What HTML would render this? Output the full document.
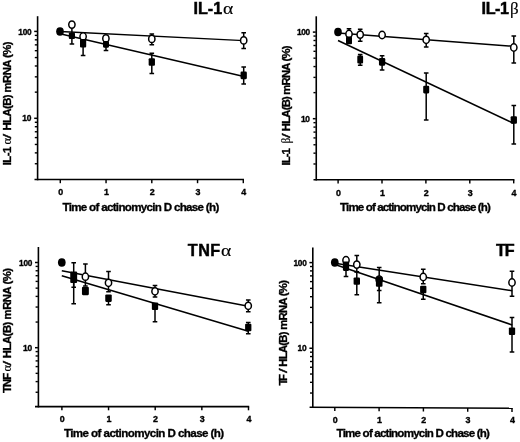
<!DOCTYPE html>
<html><head><meta charset="utf-8"><title>mRNA decay after actinomycin D chase</title>
<style>html,body{margin:0;padding:0;background:#fff;overflow:hidden;}svg{display:block;filter:blur(0.4px);}
text{font-family:"Liberation Sans",sans-serif;font-weight:bold;fill:#000;stroke:#000;stroke-width:0.32px;}
.tk{font-size:8.9px;letter-spacing:-0.3px;stroke-width:0.35px;}
.xt{font-size:11.6px;}
.yl{font-size:11.3px;}
.ti{font-size:16.2px;stroke-width:0.45px;}
.sym{font-family:"Liberation Serif",serif;font-weight:normal;stroke-width:0.15px;}
</style></head><body>
<svg width="520" height="442" viewBox="0 0 520 442">
<rect x="0" y="0" width="520" height="442" fill="#fff"/>
<g id="p1">
<g stroke="#000" stroke-width="1.6" fill="none">
<path d="M37.6 16.2 V180.3"/>
<path d="M34.5 179.5 L244 179.5"/>
</g>
<g stroke="#000" fill="none">
<path d="M37.1 31.4 h-2.9" stroke-width="1.5"/>
<path d="M37.1 35.38 h-2.3" stroke-width="1.4"/>
<path d="M37.1 39.82 h-2.3" stroke-width="1.4"/>
<path d="M37.1 44.86 h-2.3" stroke-width="1.4"/>
<path d="M37.1 50.68 h-2.3" stroke-width="1.4"/>
<path d="M37.1 57.56 h-2.3" stroke-width="1.4"/>
<path d="M37.1 65.98 h-2.3" stroke-width="1.4"/>
<path d="M37.1 76.84 h-2.3" stroke-width="1.4"/>
<path d="M37.1 92.14 h-2.3" stroke-width="1.4"/>
<path d="M37.1 118.3 h-2.9" stroke-width="1.5"/>
<path d="M37.1 122.28 h-2.3" stroke-width="1.4"/>
<path d="M37.1 126.72 h-2.3" stroke-width="1.4"/>
<path d="M37.1 131.76 h-2.3" stroke-width="1.4"/>
<path d="M37.1 137.58 h-2.3" stroke-width="1.4"/>
<path d="M37.1 144.46 h-2.3" stroke-width="1.4"/>
<path d="M37.1 152.88 h-2.3" stroke-width="1.4"/>
<path d="M37.1 163.74 h-2.3" stroke-width="1.4"/>
<path d="M60.3 179.5 v3.7" stroke-width="1.45"/>
<path d="M106.05 179.5 v3.7" stroke-width="1.45"/>
<path d="M151.8 179.5 v3.7" stroke-width="1.45"/>
<path d="M197.55 179.5 v3.7" stroke-width="1.45"/>
<path d="M243.3 179.5 v3.7" stroke-width="1.45"/>
</g>
<text class="tk" x="18.3" y="34.5" textLength="13.0" lengthAdjust="spacingAndGlyphs">100</text>
<text class="tk" x="22.3" y="121.4" textLength="8.8" lengthAdjust="spacingAndGlyphs">10</text>
<text class="tk" x="60.5" y="195.2" text-anchor="middle">0</text>
<text class="tk" x="106.25" y="195.2" text-anchor="middle">1</text>
<text class="tk" x="152" y="195.2" text-anchor="middle">2</text>
<text class="tk" x="197.75" y="195.2" text-anchor="middle">3</text>
<text class="tk" x="243.5" y="195.2" text-anchor="middle">4</text>
<text class="xt" x="62.5" y="210.8" textLength="156.8" lengthAdjust="spacing">Time of actinomycin D chase (h)</text>
<text id="p1_y0" class="yl" transform="translate(10.5 165.3) rotate(-90)" textLength="18.6" lengthAdjust="spacing">IL-1</text>
<text id="p1_y1" class="sym" transform="translate(10.5 144.6) rotate(-90)" font-size="12.5">α</text>
<text id="p1_y2" class="yl" transform="translate(10.5 138.4) rotate(-90)" textLength="4.6" lengthAdjust="spacingAndGlyphs" style="font-weight:normal;stroke-width:0.35px">/</text>
<text id="p1_y3" class="yl" transform="translate(10.5 130.5) rotate(-90)" textLength="89" lengthAdjust="spacing">HLA(B) mRNA (%)</text>
<text class="ti" x="193.6" y="13.8" textLength="28.6" lengthAdjust="spacing">IL-1</text>
<text class="sym" font-size="16.0" transform="translate(223.1 13.8) scale(1.22 1)">α</text>
<g stroke="#000" stroke-width="1.45" fill="none">
<path d="M60 31.5 L243.9 40.6"/>
<path d="M60 33.8 L243.9 76.5"/>
</g>
<g stroke="#000" stroke-width="1.5" fill="none">
<path d="M71.9 24.6 V35 M69.6 35 h4.6"/>
<path d="M151.8 38.9 V34 M149.5 34 h4.6"/>
<path d="M151.8 38.9 V44.7 M149.5 44.7 h4.6"/>
<path d="M243.7 40.4 V32.7 M241.4 32.7 h4.6"/>
<path d="M243.7 40.4 V48.5 M241.4 48.5 h4.6"/>
<path d="M71.9 35.75 V44.1 M69.6 44.1 h4.6"/>
<path d="M83.1 43.25 V55.6 M80.8 55.6 h4.6"/>
<path d="M106 44.4 V50.5 M103.7 50.5 h4.6"/>
<path d="M151.8 62 V53.3 M149.5 53.3 h4.6"/>
<path d="M151.8 62 V73.5 M149.5 73.5 h4.6"/>
<path d="M243.7 75.4 V67.1 M241.4 67.1 h4.6"/>
<path d="M243.7 75.4 V84 M241.4 84 h4.6"/>
</g>
<ellipse cx="71.9" cy="24.6" rx="3.15" ry="3.65" fill="#fff" stroke="#000" stroke-width="1.5"/>
<ellipse cx="83.1" cy="36.5" rx="3.15" ry="3.65" fill="#fff" stroke="#000" stroke-width="1.5"/>
<ellipse cx="105.9" cy="38.4" rx="3.15" ry="3.65" fill="#fff" stroke="#000" stroke-width="1.5"/>
<ellipse cx="151.8" cy="38.9" rx="3.15" ry="3.65" fill="#fff" stroke="#000" stroke-width="1.5"/>
<ellipse cx="243.7" cy="40.4" rx="3.15" ry="3.65" fill="#fff" stroke="#000" stroke-width="1.5"/>
<rect x="68.8" y="32.45" width="6.2" height="6.6" rx="1.1" fill="#000"/>
<rect x="80" y="39" width="6.2" height="8.5" rx="1.1" fill="#000"/>
<rect x="103" y="41.1" width="6" height="6.6" rx="1.1" fill="#000"/>
<rect x="148.65" y="58.2" width="6.3" height="7.6" rx="1.1" fill="#000"/>
<rect x="240.55" y="71.6" width="6.3" height="7.6" rx="1.1" fill="#000"/>
<ellipse cx="60" cy="31.5" rx="3.85" ry="4.25" fill="#000"/>
</g>
<g id="p2">
<g stroke="#000" stroke-width="1.6" fill="none">
<path d="M316.25 16.3 V180.5"/>
<path d="M313.5 179.7 L514.4 179.7"/>
</g>
<g stroke="#000" fill="none">
<path d="M315.75 32.1 h-2.9" stroke-width="1.5"/>
<path d="M315.75 36.06 h-2.3" stroke-width="1.4"/>
<path d="M315.75 40.49 h-2.3" stroke-width="1.4"/>
<path d="M315.75 45.51 h-2.3" stroke-width="1.4"/>
<path d="M315.75 51.31 h-2.3" stroke-width="1.4"/>
<path d="M315.75 58.17 h-2.3" stroke-width="1.4"/>
<path d="M315.75 66.56 h-2.3" stroke-width="1.4"/>
<path d="M315.75 77.38 h-2.3" stroke-width="1.4"/>
<path d="M315.75 92.63 h-2.3" stroke-width="1.4"/>
<path d="M315.75 118.7 h-2.9" stroke-width="1.5"/>
<path d="M315.75 122.66 h-2.3" stroke-width="1.4"/>
<path d="M315.75 127.09 h-2.3" stroke-width="1.4"/>
<path d="M315.75 132.11 h-2.3" stroke-width="1.4"/>
<path d="M315.75 137.91 h-2.3" stroke-width="1.4"/>
<path d="M315.75 144.77 h-2.3" stroke-width="1.4"/>
<path d="M315.75 153.16 h-2.3" stroke-width="1.4"/>
<path d="M315.75 163.98 h-2.3" stroke-width="1.4"/>
<path d="M338.1 179.7 v3.7" stroke-width="1.45"/>
<path d="M382 179.7 v3.7" stroke-width="1.45"/>
<path d="M425.9 179.7 v3.7" stroke-width="1.45"/>
<path d="M469.8 179.7 v3.7" stroke-width="1.45"/>
<path d="M513.7 179.7 v3.7" stroke-width="1.45"/>
</g>
<text class="tk" x="296.95" y="35.2" textLength="13.0" lengthAdjust="spacingAndGlyphs">100</text>
<text class="tk" x="300.95" y="121.8" textLength="8.8" lengthAdjust="spacingAndGlyphs">10</text>
<text class="tk" x="338.3" y="195.5" text-anchor="middle">0</text>
<text class="tk" x="382.2" y="195.5" text-anchor="middle">1</text>
<text class="tk" x="426.1" y="195.5" text-anchor="middle">2</text>
<text class="tk" x="470" y="195.5" text-anchor="middle">3</text>
<text class="tk" x="513.9" y="195.5" text-anchor="middle">4</text>
<text class="xt" x="340.1" y="211" textLength="150.8" lengthAdjust="spacing">Time of actinomycin D chase (h)</text>
<text id="p2_y0" class="yl" transform="translate(290.3 165.4) rotate(-90)" textLength="17.2" lengthAdjust="spacing">IL-1</text>
<text id="p2_y1" class="sym" transform="translate(290.3 143.4) rotate(-90)" font-size="11.5">β</text>
<text id="p2_y2" class="yl" transform="translate(290.3 137.9) rotate(-90)" textLength="4.6" lengthAdjust="spacingAndGlyphs" style="font-weight:normal;stroke-width:0.35px">/</text>
<text id="p2_y3" class="yl" transform="translate(290.3 131.2) rotate(-90)" textLength="85.8" lengthAdjust="spacing">HLA(B) mRNA (%)</text>
<text class="ti" x="481.6" y="13.8" textLength="27.4" lengthAdjust="spacing">IL-1</text>
<text class="sym" font-size="17.0" transform="translate(509.9 13.8) scale(1.0 1)">β</text>
<g stroke="#000" stroke-width="1.5" fill="none">
<path d="M338 33 L513.9 46.3"/>
<path d="M338 40.5 L513.9 123.5"/>
</g>
<g stroke="#000" stroke-width="1.5" fill="none">
<path d="M349 34 V28.8 M346.7 28.8 h4.6"/>
<path d="M349 34 V38 M346.7 38 h4.6"/>
<path d="M360.2 34.6 V29.2 M357.9 29.2 h4.6"/>
<path d="M360.2 34.6 V41.3 M357.9 41.3 h4.6"/>
<path d="M426.2 39.8 V33.5 M423.9 33.5 h4.6"/>
<path d="M426.2 39.8 V46.9 M423.9 46.9 h4.6"/>
<path d="M513.8 47.5 V36 M511.5 36 h4.6"/>
<path d="M513.8 47.5 V62.9 M511.5 62.9 h4.6"/>
<path d="M360.2 59.6 V54.6 M357.9 54.6 h4.6"/>
<path d="M360.2 59.6 V65.2 M357.9 65.2 h4.6"/>
<path d="M382.1 61.9 V55.8 M379.8 55.8 h4.6"/>
<path d="M382.1 61.9 V70 M379.8 70 h4.6"/>
<path d="M426.2 89.6 V72.9 M423.9 72.9 h4.6"/>
<path d="M426.2 89.6 V120 M423.9 120 h4.6"/>
<path d="M513.8 120 V105.6 M511.5 105.6 h4.6"/>
<path d="M513.8 120 V144 M511.5 144 h4.6"/>
</g>
<ellipse cx="349" cy="34" rx="3.15" ry="3.65" fill="#fff" stroke="#000" stroke-width="1.5"/>
<ellipse cx="360.2" cy="34.6" rx="3.15" ry="3.65" fill="#fff" stroke="#000" stroke-width="1.5"/>
<ellipse cx="382.1" cy="35" rx="3.15" ry="3.65" fill="#fff" stroke="#000" stroke-width="1.5"/>
<ellipse cx="426.2" cy="39.8" rx="3.15" ry="3.65" fill="#fff" stroke="#000" stroke-width="1.5"/>
<ellipse cx="513.8" cy="47.5" rx="3.15" ry="3.65" fill="#fff" stroke="#000" stroke-width="1.5"/>
<rect x="346" y="36.55" width="6" height="7.7" rx="1.1" fill="#000"/>
<rect x="357.3" y="55.6" width="5.8" height="8" rx="1.1" fill="#000"/>
<rect x="378.95" y="58.1" width="6.3" height="7.6" rx="1.1" fill="#000"/>
<rect x="423.2" y="85.75" width="6" height="7.7" rx="1.1" fill="#000"/>
<rect x="510.65" y="116.2" width="6.3" height="7.6" rx="1.1" fill="#000"/>
<ellipse cx="338" cy="32.1" rx="3.85" ry="4.25" fill="#000"/>
</g>
<g id="p3">
<g stroke="#000" stroke-width="1.6" fill="none">
<path d="M38.4 247 V407.4"/>
<path d="M35 406.6 L249.2 406.6"/>
</g>
<g stroke="#000" fill="none">
<path d="M37.9 262.5 h-2.9" stroke-width="1.5"/>
<path d="M37.9 266.4 h-2.3" stroke-width="1.4"/>
<path d="M37.9 270.76 h-2.3" stroke-width="1.4"/>
<path d="M37.9 275.7 h-2.3" stroke-width="1.4"/>
<path d="M37.9 281.4 h-2.3" stroke-width="1.4"/>
<path d="M37.9 288.15 h-2.3" stroke-width="1.4"/>
<path d="M37.9 296.4 h-2.3" stroke-width="1.4"/>
<path d="M37.9 307.05 h-2.3" stroke-width="1.4"/>
<path d="M37.9 322.05 h-2.3" stroke-width="1.4"/>
<path d="M37.9 347.7 h-2.9" stroke-width="1.5"/>
<path d="M37.9 351.6 h-2.3" stroke-width="1.4"/>
<path d="M37.9 355.96 h-2.3" stroke-width="1.4"/>
<path d="M37.9 360.9 h-2.3" stroke-width="1.4"/>
<path d="M37.9 366.6 h-2.3" stroke-width="1.4"/>
<path d="M37.9 373.35 h-2.3" stroke-width="1.4"/>
<path d="M37.9 381.6 h-2.3" stroke-width="1.4"/>
<path d="M37.9 392.25 h-2.3" stroke-width="1.4"/>
<path d="M61.9 406.6 v3.7" stroke-width="1.45"/>
<path d="M108.55 406.6 v3.7" stroke-width="1.45"/>
<path d="M155.2 406.6 v3.7" stroke-width="1.45"/>
<path d="M201.85 406.6 v3.7" stroke-width="1.45"/>
<path d="M248.5 406.6 v3.7" stroke-width="1.45"/>
</g>
<text class="tk" x="19.1" y="265.6" textLength="13.0" lengthAdjust="spacingAndGlyphs">100</text>
<text class="tk" x="23.1" y="350.8" textLength="8.8" lengthAdjust="spacingAndGlyphs">10</text>
<text class="tk" x="62.1" y="422.3" text-anchor="middle">0</text>
<text class="tk" x="108.75" y="422.3" text-anchor="middle">1</text>
<text class="tk" x="155.4" y="422.3" text-anchor="middle">2</text>
<text class="tk" x="202.05" y="422.3" text-anchor="middle">3</text>
<text class="tk" x="248.7" y="422.3" text-anchor="middle">4</text>
<text class="xt" x="63.9" y="436.8" textLength="160.3" lengthAdjust="spacing">Time of actinomycin D chase (h)</text>
<text id="p3_y0" class="yl" transform="translate(10.7 392.9) rotate(-90)" textLength="20" lengthAdjust="spacing">TNF</text>
<text id="p3_y1" class="sym" transform="translate(10.7 371.5) rotate(-90)" font-size="12.5">α</text>
<text id="p3_y2" class="yl" transform="translate(10.7 365.4) rotate(-90)" textLength="4.6" lengthAdjust="spacingAndGlyphs" style="font-weight:normal;stroke-width:0.35px">/</text>
<text id="p3_y3" class="yl" transform="translate(10.7 358.2) rotate(-90)" textLength="90.3" lengthAdjust="spacing">HLA(B) mRNA (%)</text>
<text class="ti" x="187.8" y="255.75" textLength="32.4" lengthAdjust="spacing">TNF</text>
<text class="sym" font-size="16.0" transform="translate(221.1 255.75) scale(1.22 1)">α</text>
<g stroke="#000" stroke-width="1.55" fill="none">
<path d="M61.8 270.8 L248.4 306.3"/>
<path d="M61.8 275.8 L248.4 331.2"/>
</g>
<g stroke="#000" stroke-width="1.5" fill="none">
<path d="M85.4 276.7 V264.1 M83.1 264.1 h4.6"/>
<path d="M85.4 276.7 V286 M83.1 286 h4.6"/>
<path d="M108.5 282.8 V271.6 M106.2 271.6 h4.6"/>
<path d="M108.5 282.8 V291.8 M106.2 291.8 h4.6"/>
<path d="M155 291.3 V285.5 M152.7 285.5 h4.6"/>
<path d="M155 291.3 V297 M152.7 297 h4.6"/>
<path d="M248.25 305.8 V300 M245.95 300 h4.6"/>
<path d="M248.25 305.8 V311.8 M245.95 311.8 h4.6"/>
<path d="M73.7 277.2 V262.7 M71.4 262.7 h4.6"/>
<path d="M73.7 277.2 V303.7 M71.4 303.7 h4.6"/>
<path d="M73.7 280 V287.2 M71.4 287.2 h4.6"/>
<path d="M108.5 298.2 V304.8 M106.2 304.8 h4.6"/>
<path d="M155 306.3 V321.8 M152.7 321.8 h4.6"/>
<path d="M248.25 327.5 V322.5 M245.95 322.5 h4.6"/>
<path d="M248.25 327.5 V333.8 M245.95 333.8 h4.6"/>
</g>
<ellipse cx="85.4" cy="276.7" rx="3.15" ry="3.65" fill="#fff" stroke="#000" stroke-width="1.5"/>
<ellipse cx="108.5" cy="282.8" rx="3.15" ry="3.65" fill="#fff" stroke="#000" stroke-width="1.5"/>
<ellipse cx="155" cy="291.3" rx="3.15" ry="3.65" fill="#fff" stroke="#000" stroke-width="1.5"/>
<ellipse cx="248.25" cy="305.8" rx="3.15" ry="3.65" fill="#fff" stroke="#000" stroke-width="1.5"/>
<rect x="70.25" y="271.4" width="6.9" height="11.6" rx="1.1" fill="#000"/>
<rect x="73.2" y="279.5" width="1" height="1" rx="1.1" fill="#000"/>
<rect x="81.95" y="286.8" width="6.9" height="8.4" rx="1.1" fill="#000"/>
<rect x="105.25" y="294.5" width="6.5" height="7.4" rx="1.1" fill="#000"/>
<rect x="151.85" y="302.5" width="6.3" height="7.6" rx="1.1" fill="#000"/>
<rect x="245.1" y="323.7" width="6.3" height="7.6" rx="1.1" fill="#000"/>
<ellipse cx="61.8" cy="262.6" rx="3.85" ry="4.25" fill="#000"/>
</g>
<g id="p4">
<g stroke="#000" stroke-width="1.6" fill="none">
<path d="M312.8 247.5 V408.1"/>
<path d="M309.6 407.3 L512.7 408.3"/>
</g>
<g stroke="#000" fill="none">
<path d="M312.3 262.6 h-2.9" stroke-width="1.5"/>
<path d="M312.3 266.52 h-2.3" stroke-width="1.4"/>
<path d="M312.3 270.9 h-2.3" stroke-width="1.4"/>
<path d="M312.3 275.87 h-2.3" stroke-width="1.4"/>
<path d="M312.3 281.6 h-2.3" stroke-width="1.4"/>
<path d="M312.3 288.38 h-2.3" stroke-width="1.4"/>
<path d="M312.3 296.68 h-2.3" stroke-width="1.4"/>
<path d="M312.3 307.38 h-2.3" stroke-width="1.4"/>
<path d="M312.3 322.47 h-2.3" stroke-width="1.4"/>
<path d="M312.3 348.25 h-2.9" stroke-width="1.5"/>
<path d="M312.3 352.17 h-2.3" stroke-width="1.4"/>
<path d="M312.3 356.55 h-2.3" stroke-width="1.4"/>
<path d="M312.3 361.52 h-2.3" stroke-width="1.4"/>
<path d="M312.3 367.25 h-2.3" stroke-width="1.4"/>
<path d="M312.3 374.03 h-2.3" stroke-width="1.4"/>
<path d="M312.3 382.33 h-2.3" stroke-width="1.4"/>
<path d="M312.3 393.03 h-2.3" stroke-width="1.4"/>
<path d="M334.8 407.3 v3.7" stroke-width="1.45"/>
<path d="M379.1 407.55 v3.7" stroke-width="1.45"/>
<path d="M423.4 407.8 v3.7" stroke-width="1.45"/>
<path d="M467.7 408.05 v3.7" stroke-width="1.45"/>
<path d="M512 408.3 v3.7" stroke-width="1.45"/>
</g>
<text class="tk" x="293.5" y="265.7" textLength="13.0" lengthAdjust="spacingAndGlyphs">100</text>
<text class="tk" x="297.5" y="351.35" textLength="8.8" lengthAdjust="spacingAndGlyphs">10</text>
<text class="tk" x="335" y="422.8" text-anchor="middle">0</text>
<text class="tk" x="379.3" y="422.8" text-anchor="middle">1</text>
<text class="tk" x="423.6" y="422.8" text-anchor="middle">2</text>
<text class="tk" x="467.9" y="422.8" text-anchor="middle">3</text>
<text class="tk" x="512.2" y="422.8" text-anchor="middle">4</text>
<text class="xt" x="336.6" y="437" textLength="153.3" lengthAdjust="spacing">Time of actinomycin D chase (h)</text>
<text id="p4_y0" class="yl" transform="translate(286.8 385.4) rotate(-90)" textLength="11.4" lengthAdjust="spacing">TF</text>
<text id="p4_y1" class="yl" transform="translate(286.8 373) rotate(-90)" textLength="4.6" lengthAdjust="spacingAndGlyphs" style="font-weight:normal;stroke-width:0.35px">/</text>
<text id="p4_y2" class="yl" transform="translate(286.8 366.7) rotate(-90)" textLength="86.6" lengthAdjust="spacing">HLA(B) mRNA (%)</text>
<text class="ti" x="496" y="256.25" textLength="18.6" lengthAdjust="spacing">TF</text>
<g stroke="#000" stroke-width="1.55" fill="none">
<path d="M335 263.3 L512.2 290.8"/>
<path d="M335 264.4 L512.2 325"/>
</g>
<g stroke="#000" stroke-width="1.5" fill="none">
<path d="M356.8 264.6 V255.4 M354.5 255.4 h4.6"/>
<path d="M356.8 264.6 V272 M354.5 272 h4.6"/>
<path d="M379.2 279.6 V267.4 M376.9 267.4 h4.6"/>
<path d="M379.2 279.6 V290.5 M376.9 290.5 h4.6"/>
<path d="M423.25 277 V269.3 M420.95 269.3 h4.6"/>
<path d="M423.25 277 V283.8 M420.95 283.8 h4.6"/>
<path d="M512 282.5 V271.3 M509.7 271.3 h4.6"/>
<path d="M512 282.5 V296.3 M509.7 296.3 h4.6"/>
<path d="M346 266.2 V276.5 M343.7 276.5 h4.6"/>
<path d="M356.8 281.1 V271.7 M354.5 271.7 h4.6"/>
<path d="M356.8 281.1 V294.8 M354.5 294.8 h4.6"/>
<path d="M379.2 281.6 V302.7 M376.9 302.7 h4.6"/>
<path d="M423.25 289.5 V299.3 M420.95 299.3 h4.6"/>
<path d="M512 331.2 V317.5 M509.7 317.5 h4.6"/>
<path d="M512 331.2 V352 M509.7 352 h4.6"/>
</g>
<ellipse cx="346" cy="260.2" rx="3.15" ry="3.65" fill="#fff" stroke="#000" stroke-width="1.5"/>
<ellipse cx="356.8" cy="264.6" rx="3.15" ry="3.65" fill="#fff" stroke="#000" stroke-width="1.5"/>
<ellipse cx="379.2" cy="279.6" rx="3.15" ry="3.65" fill="#fff" stroke="#000" stroke-width="1.5"/>
<ellipse cx="423.25" cy="277" rx="3.15" ry="3.65" fill="#fff" stroke="#000" stroke-width="1.5"/>
<ellipse cx="512" cy="282.5" rx="3.15" ry="3.65" fill="#fff" stroke="#000" stroke-width="1.5"/>
<rect x="342.9" y="261.45" width="6.2" height="9.5" rx="1.1" fill="#000"/>
<rect x="353.6" y="277.4" width="6.4" height="7.4" rx="1.1" fill="#000"/>
<rect x="375.9" y="276.4" width="6.6" height="10.4" rx="1.1" fill="#000"/>
<rect x="420.1" y="285.7" width="6.3" height="7.6" rx="1.1" fill="#000"/>
<rect x="508.85" y="327.4" width="6.3" height="7.6" rx="1.1" fill="#000"/>
<ellipse cx="334.8" cy="262.4" rx="3.85" ry="4.25" fill="#000"/>
</g>
</svg></body></html>
